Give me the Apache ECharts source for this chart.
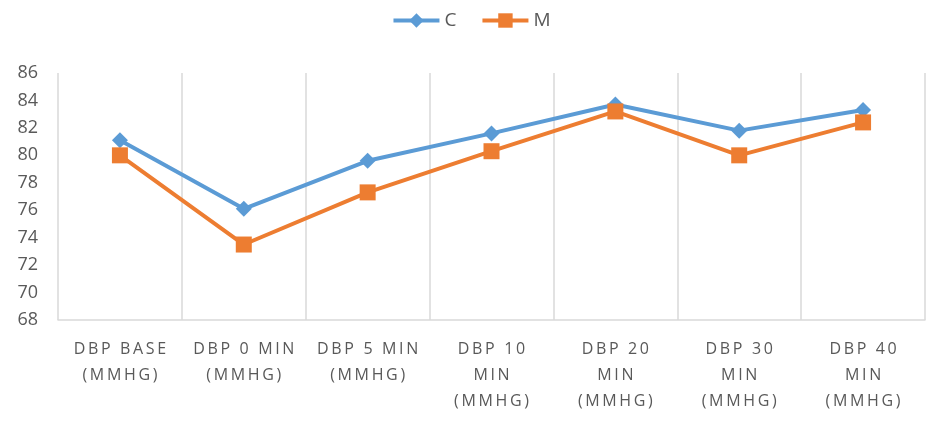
<!DOCTYPE html>
<html>
<head>
<meta charset="utf-8">
<title>DBP C vs M</title>
<script src="https://cdn.jsdelivr.net/npm/echarts@6/dist/echarts.min.js"></script>
<style>
  html, body { margin: 0; padding: 0; background: #fff; }
  #chart { width: 942px; height: 427px; }
</style>
</head>
<body>
<div id="chart"></div>
<script>
// categories along the x axis
const categories = [
  'DBP BASE\n(MMHG)',
  'DBP 0 MIN\n(MMHG)',
  'DBP 5 MIN\n(MMHG)',
  'DBP 10\nMIN\n(MMHG)',
  'DBP 20\nMIN\n(MMHG)',
  'DBP 30\nMIN\n(MMHG)',
  'DBP 40\nMIN\n(MMHG)'
];
const seriesNames = ['C', 'M'];
const valuesC = [81.1, 76.1, 79.6, 81.6, 83.7, 81.8, 83.3];
const valuesM = [80.0, 73.5, 77.3, 80.3, 83.2, 80.0, 82.4];
const yTicks = { min: 68, max: 86, step: 2 };

const BLUE = '#5B9BD5';
const ORANGE = '#ED7D31';
const TEXT = '#595959';
const GRID = '#D9D9D9';

// the source chart letter-spaces its category labels; canvas has no
// letter-spacing, so pad with thin spaces at draw time
function spaced(label) {
  return label
    .split('\n')
    .map((line) => line.split('').join('\u2009'))
    .join('\n');
}

const chart = echarts.init(document.getElementById('chart'));

chart.setOption({
  animation: false,
  textStyle: { fontFamily: 'Open Sans' },
  legend: {
    top: 6,
    left: 'center',
    itemWidth: 46,
    itemHeight: 18,
    itemGap: 24,
    lineStyle: { width: 4 },
    textStyle: { color: TEXT, fontSize: 19, fontFamily: 'Open Sans' },
    data: seriesNames
  },
  grid: {
    left: 58,
    right: 17,
    top: 73,
    bottom: 107
  },
  xAxis: {
    type: 'category',
    data: categories,
    boundaryGap: true,
    axisTick: { show: false },
    axisLine: { lineStyle: { color: GRID, width: 1.5 } },
    splitLine: { show: true, lineStyle: { color: GRID, width: 1.5 } },
    axisLabel: {
      interval: 0,
      color: TEXT,
      fontSize: 16,
      lineHeight: 26,
      margin: 16,
      align: 'center',
      formatter: spaced
    }
  },
  yAxis: {
    type: 'value',
    min: yTicks.min,
    max: yTicks.max,
    interval: yTicks.step,
    axisLine: { show: false },
    axisTick: { show: false },
    splitLine: { show: false },
    axisLabel: { color: TEXT, fontSize: 18, margin: 20 }
  },
  series: [
    {
      name: seriesNames[0],
      type: 'line',
      data: valuesC,
      color: BLUE,
      symbol: 'diamond',
      symbolSize: 16,
      lineStyle: { width: 4, color: BLUE },
      itemStyle: { color: BLUE }
    },
    {
      name: seriesNames[1],
      type: 'line',
      data: valuesM,
      color: ORANGE,
      symbol: 'rect',
      symbolSize: 16,
      lineStyle: { width: 4, color: ORANGE },
      itemStyle: { color: ORANGE }
    }
  ]
});
</script>
</body>
</html>
